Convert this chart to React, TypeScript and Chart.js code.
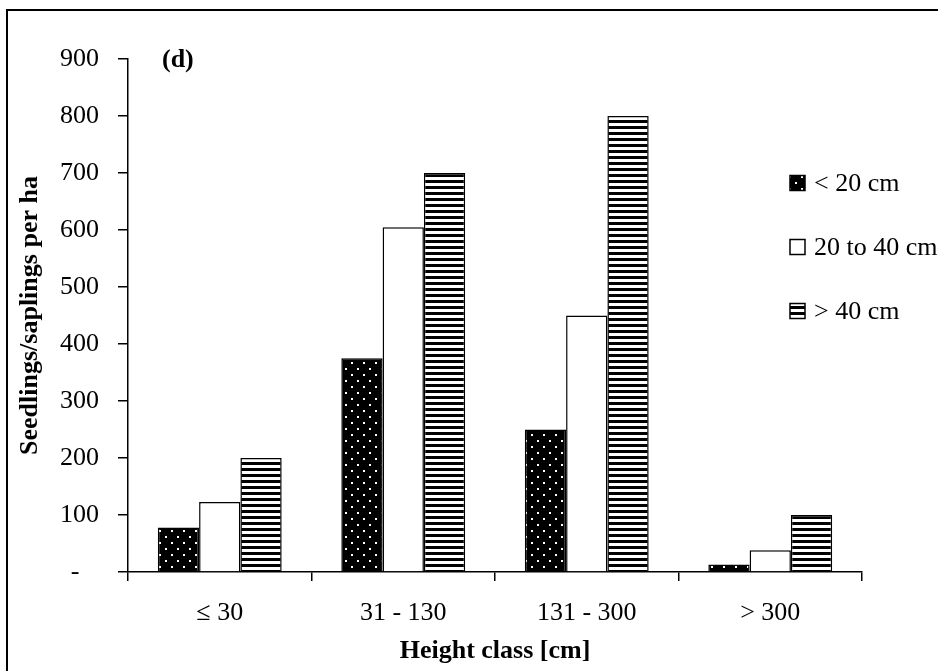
import React, { useEffect, useRef } from "react";
import { Chart, registerables } from "chart.js";

Chart.register(...registerables);

const categories = ["≤ 30", "31 - 130", "131 - 300", "> 300"];
const seriesNames = ["< 20 cm", "20 to 40 cm", "> 40 cm"];
const lessThan20 = [78, 375, 250, 13];
const from20to40 = [123, 605, 450, 38];
const over40 = [200, 700, 800, 100];
const yTicks = [0, 100, 200, 300, 400, 500, 600, 700, 800, 900];

const FONT = "'Liberation Serif', 'Times New Roman', serif";

function makeDots(): CanvasPattern | string {
  const c = document.createElement("canvas");
  c.width = 12;
  c.height = 12;
  const g = c.getContext("2d")!;
  g.fillStyle = "#000";
  g.fillRect(0, 0, 12, 12);
  g.fillStyle = "#fff";
  g.fillRect(3, 2, 2, 2);
  g.fillRect(9, 8, 2, 2);
  return g.createPattern(c, "repeat") || "#000";
}

function makeStripes(): CanvasPattern | string {
  const c = document.createElement("canvas");
  c.width = 6;
  c.height = 6;
  const g = c.getContext("2d")!;
  g.fillStyle = "#fff";
  g.fillRect(0, 0, 6, 6);
  g.fillStyle = "#000";
  g.fillRect(0, 0, 6, 3);
  return g.createPattern(c, "repeat") || "#000";
}

export default function App() {
  const ref = useRef<HTMLCanvasElement>(null);

  useEffect(() => {
    const canvas = ref.current!;
    const dots = makeDots();
    const stripes = makeStripes();
    const fills = [dots, "#ffffff", stripes];

    const decor = {
      id: "decor",
      beforeDraw(chart: any) {
        const ctx = chart.ctx;
        ctx.save();
        ctx.fillStyle = "#fff";
        ctx.fillRect(0, 0, chart.width, chart.height);
        ctx.strokeStyle = "#000";
        ctx.lineWidth = 2;
        ctx.beginPath();
        ctx.moveTo(7, chart.height + 2);
        ctx.lineTo(7, 10);
        ctx.lineTo(chart.width + 2, 10);
        ctx.stroke();
        ctx.restore();
      },
      afterDraw(chart: any) {
        const ctx = chart.ctx;
        ctx.save();
        ctx.fillStyle = "#000";
        ctx.font = `bold 26px ${FONT}`;
        ctx.textBaseline = "middle";
        ctx.textAlign = "left";
        ctx.fillText("(d)", 162, 60);

        const ys = [183, 247, 311];
        ctx.font = `26px ${FONT}`;
        seriesNames.forEach((name, i) => {
          const y = ys[i];
          const x = 790;
          const s = 15;
          ctx.fillStyle = fills[i] as any;
          ctx.fillRect(x, y - s / 2, s, s);
          ctx.strokeStyle = "#000";
          ctx.lineWidth = 1.5;
          ctx.strokeRect(x, y - s / 2, s, s);
          ctx.fillStyle = "#000";
          ctx.fillText(name, x + 24, y + 1);
        });
        ctx.restore();
      },
    };

    const chart = new Chart(canvas, {
      type: "bar",
      data: {
        labels: categories,
        datasets: [
          { label: seriesNames[0], data: lessThan20, backgroundColor: dots as any },
          { label: seriesNames[1], data: from20to40, backgroundColor: "#ffffff" },
          { label: seriesNames[2], data: over40, backgroundColor: stripes as any },
        ].map((d) => ({
          ...d,
          borderColor: "#000",
          borderWidth: 1.5,
          categoryPercentage: 0.675,
          barPercentage: 1,
        })),
      },
      options: {
        responsive: false,
        animation: false,
        devicePixelRatio: 1,
        layout: { padding: { left: 0, top: 59, right: 76, bottom: 0 } },
        plugins: {
          legend: { display: false },
          tooltip: { enabled: false },
        },
        scales: {
          x: {
            afterFit: (s: any) => {
              s.height = 99;
            },
            grid: {
              drawOnChartArea: false,
              drawTicks: true,
              tickLength: 9,
              color: "#000",
              lineWidth: 1.5,
              offset: true,
            },
            border: { display: true, color: "#000", width: 1.5 },
            ticks: {
              color: "#000",
              font: { family: FONT, size: 26 },
              padding: 17,
              maxRotation: 0,
            },
            title: {
              display: true,
              text: "Height class [cm]",
              color: "#000",
              font: { family: FONT, size: 26, weight: "bold" },
              padding: { top: 0, bottom: 4 },
            },
          },
          y: {
            min: 0,
            max: 900,
            afterFit: (s: any) => {
              s.width = 128;
            },
            afterBuildTicks: (s: any) => {
              s.ticks = yTicks.map((v) => ({ value: v }));
            },
            grid: {
              drawOnChartArea: false,
              drawTicks: true,
              tickLength: 10,
              color: "#000",
              lineWidth: 1.5,
            },
            border: { display: true, color: "#000", width: 1.5 },
            ticks: {
              color: "#000",
              font: { family: FONT, size: 26 },
              padding: 19,
              callback: (v: any) => (Number(v) === 0 ? "-   " : String(v)),
            },
            title: {
              display: true,
              text: "Seedlings/saplings per ha",
              color: "#000",
              font: { family: FONT, size: 26, weight: "bold" },
              padding: { top: 15, bottom: 0 },
            },
          },
        },
      },
      plugins: [decor],
    });
    return () => chart.destroy();
  }, []);

  return (
    <div style={{ position: "fixed", left: 0, top: 0, width: 938, height: 671, background: "#fff" }}>
      <canvas ref={ref} width={938} height={671} style={{ display: "block", width: 938, height: 671 }} />
    </div>
  );
}
